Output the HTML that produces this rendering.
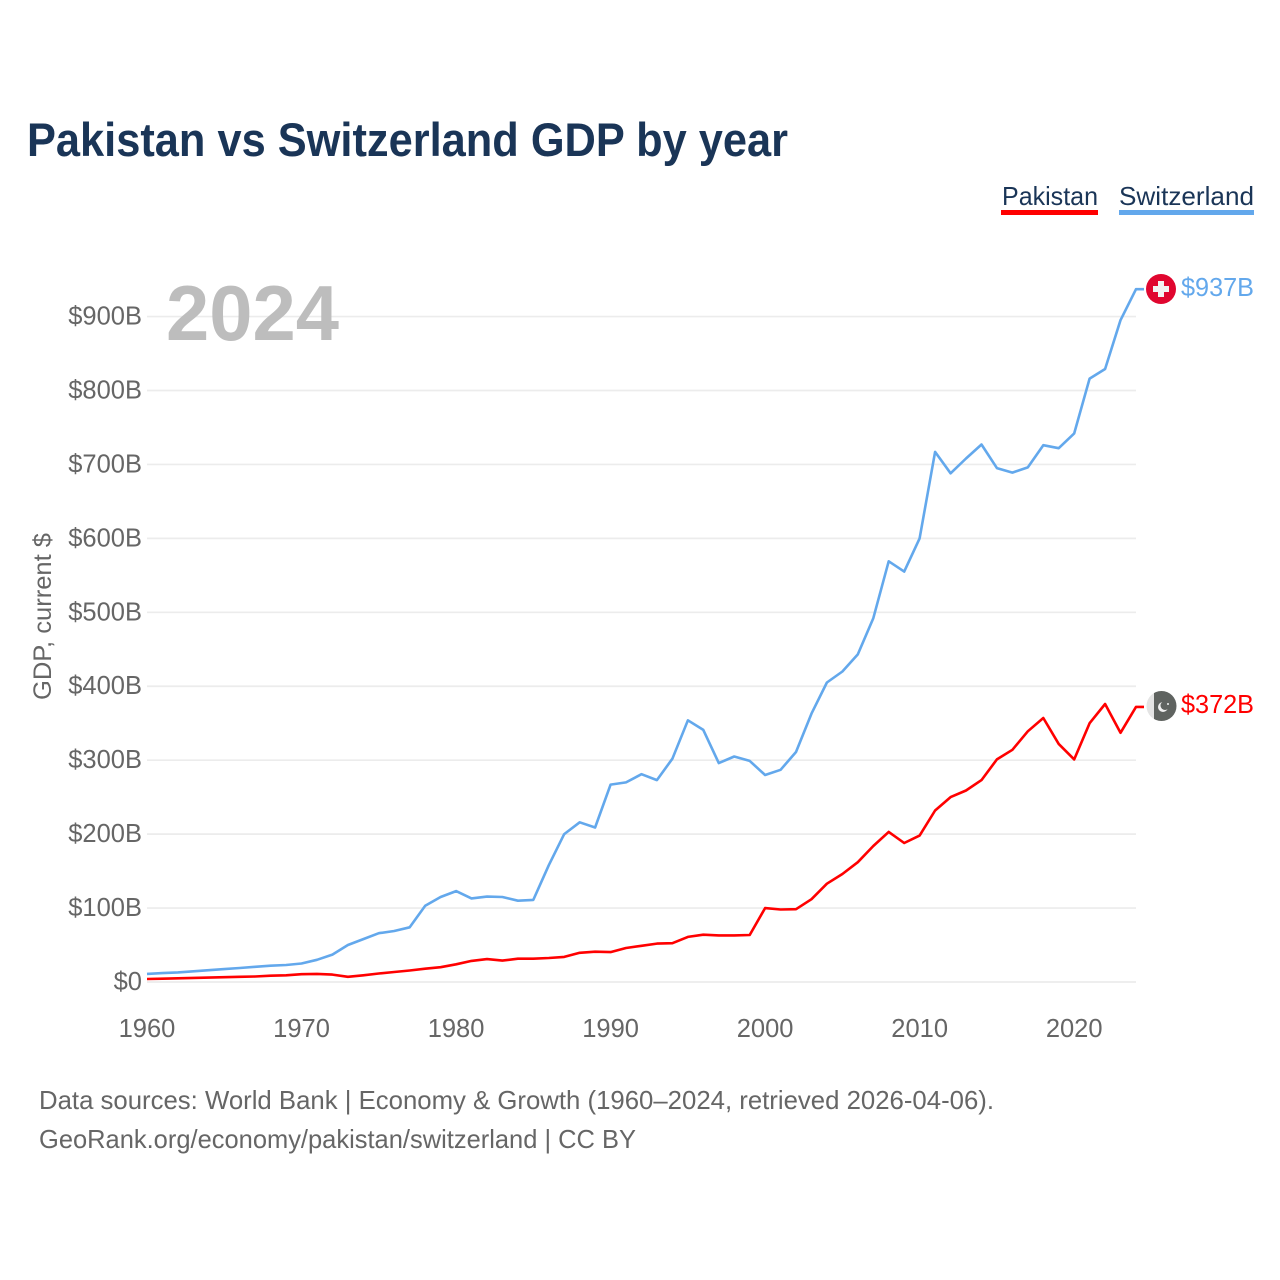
<!DOCTYPE html>
<html lang="en">
<head>
<meta charset="utf-8">
<title>Pakistan vs Switzerland GDP by year</title>
<style>
html,body{margin:0;padding:0;background:#fff;width:1280px;height:1280px;overflow:hidden}
svg{display:block}
text{font-family:"Liberation Sans",sans-serif}
</style>
</head>
<body>
<svg id="chart" width="1280" height="1280" viewBox="0 0 1280 1280" xmlns="http://www.w3.org/2000/svg">
  <text x="27" y="156" font-size="47" font-weight="700" fill="#1a3557" textLength="761" lengthAdjust="spacingAndGlyphs">Pakistan vs Switzerland GDP by year</text>

  <g>
    <text x="1002" y="205" font-size="26" fill="#1a3557" textLength="96" lengthAdjust="spacingAndGlyphs">Pakistan</text>
    <rect x="1001" y="210" width="97" height="5" fill="#ff0000"/>
    <text x="1119" y="205" font-size="26" fill="#1a3557" textLength="135" lengthAdjust="spacingAndGlyphs">Switzerland</text>
    <rect x="1119" y="210" width="135" height="5" fill="#63a8ec"/>
  </g>

  <g id="grid"></g>
  <g id="yticks"></g>
  <g id="xticks"></g>

  <text transform="translate(51,700) rotate(-90)" font-size="25" fill="#666" textLength="167" lengthAdjust="spacingAndGlyphs">GDP, current $</text>
  <text x="166" y="340" font-size="78" font-weight="700" fill="#bdbdbd" textLength="173" lengthAdjust="spacingAndGlyphs">2024</text>

  <g id="series"></g>

  <g id="flag-switzerland">
    <circle cx="1161" cy="289" r="15" fill="#e0062f"/>
    <rect x="1153" y="286" width="16" height="6" fill="#f2f2f2"/>
    <rect x="1158" y="281" width="6" height="16" fill="#f2f2f2"/>
  </g>
  <g id="flag-pakistan">
    <clipPath id="flag-clip"><circle cx="1161.5" cy="706" r="15"/></clipPath>
    <g clip-path="url(#flag-clip)">
      <rect x="1146" y="690" width="8" height="32" fill="#e4e4e4"/>
      <rect x="1154" y="690" width="24" height="32" fill="#5f6360"/>
      <circle cx="1163" cy="707" r="5" fill="#f0f0f0"/>
      <circle cx="1165" cy="705.500" r="4.500" fill="#5f6360"/>
      <circle cx="1168" cy="704" r="1" fill="#f0f0f0"/>
    </g>
  </g>

  <text x="1181" y="296" font-size="25.500" fill="#63a8ec" textLength="73" lengthAdjust="spacingAndGlyphs">$937B</text>
  <text x="1181" y="713" font-size="25.500" fill="#ff0000" textLength="73" lengthAdjust="spacingAndGlyphs">$372B</text>

  <text x="39" y="1109" font-size="26" fill="#666" textLength="955" lengthAdjust="spacingAndGlyphs">Data sources: World Bank | Economy &amp; Growth (1960–2024, retrieved 2026-04-06).</text>
  <text x="39" y="1148" font-size="26" fill="#666" textLength="597" lengthAdjust="spacingAndGlyphs">GeoRank.org/economy/pakistan/switzerland | CC BY</text>
</svg>
<script>
var startYear = 1960;
var yTickValues = [0, 100, 200, 300, 400, 500, 600, 700, 800, 900];
var yTickLabels = ["$0", "$100B", "$200B", "$300B", "$400B", "$500B", "$600B", "$700B", "$800B", "$900B"];
var xTickValues = [1960, 1970, 1980, 1990, 2000, 2010, 2020];
var xTickLabels = ["1960", "1970", "1980", "1990", "2000", "2010", "2020"];
var switzerland = [11, 12, 13, 14.5, 16, 17.5, 19, 20.5, 22, 23, 25, 30, 37, 50, 58, 66, 69, 74, 103, 115, 123, 113, 115.5, 115, 110, 111, 158, 200, 216, 209, 267, 270, 281, 273, 302, 354, 341, 296, 305, 299, 280, 287, 311, 363, 405, 420, 443, 492, 569, 555, 600, 717, 688, 708, 727, 695, 689, 696, 726, 722, 742, 816, 829, 895, 937];
var pakistan = [4, 4.5, 5, 5.5, 6, 6.5, 7, 7.5, 8.5, 9, 10.5, 11, 10, 7, 9, 11.5, 13.5, 15.5, 18, 20, 24, 28.5, 31, 29, 31.5, 31.5, 32.5, 34, 39.5, 41, 40.5, 46, 49, 52, 52.5, 61, 64, 63, 63, 63.5, 100, 98, 98.5, 112, 133, 146, 162, 184, 203, 188, 198, 232, 250, 259, 273, 301, 314, 339, 357, 322, 301, 350, 376, 337, 372];

var NS = "http://www.w3.org/2000/svg";
function xScale(year) { return 147 + (year - 1960) * 15.453; }
function yScale(value) { return 982 - value * 0.7394; }

var gridGroup = document.getElementById("grid");
var yGroup = document.getElementById("yticks");
var xGroup = document.getElementById("xticks");
var seriesGroup = document.getElementById("series");

yTickValues.forEach(function (v, i) {
  var line = document.createElementNS(NS, "line");
  
  
  line.setAttribute("x1", 147);
  line.setAttribute("x2", 1136);
  line.setAttribute("y1", yScale(v));
  line.setAttribute("y2", yScale(v));
  line.setAttribute("stroke", "#ececec");
  line.setAttribute("stroke-width", "1.7");
  gridGroup.appendChild(line);

  var label = document.createElementNS(NS, "text");
  
  
  label.setAttribute("x", 142);
  label.setAttribute("y", yScale(v) + 8);
  label.setAttribute("text-anchor", "end");
  label.setAttribute("font-size", "25.5");
  label.setAttribute("fill", "#666");
  label.textContent = yTickLabels[i];
  yGroup.appendChild(label);
});

xTickValues.forEach(function (v, i) {
  var label = document.createElementNS(NS, "text");
  
  
  label.setAttribute("x", xScale(v));
  label.setAttribute("y", 1037);
  label.setAttribute("text-anchor", "middle");
  label.setAttribute("font-size", "25.5");
  label.setAttribute("fill", "#666");
  label.textContent = xTickLabels[i];
  xGroup.appendChild(label);
});

function linePoints(values) {
  var pts = values.map(function (v, i) {
    return xScale(startYear + i).toFixed(1) + "," + yScale(v).toFixed(1);
  });
  var last = values[values.length - 1];
  pts.push("1144," + yScale(last).toFixed(1));
  return pts.join(" ");
}

var swissLine = document.createElementNS(NS, "polyline");


swissLine.setAttribute("points", linePoints(switzerland));
swissLine.setAttribute("fill", "none");
swissLine.setAttribute("stroke", "#63a8ec");
swissLine.setAttribute("stroke-width", "2.6");
swissLine.setAttribute("stroke-linejoin", "round");
seriesGroup.appendChild(swissLine);

var pakLine = document.createElementNS(NS, "polyline");


pakLine.setAttribute("points", linePoints(pakistan));
pakLine.setAttribute("fill", "none");
pakLine.setAttribute("stroke", "#ff0000");
pakLine.setAttribute("stroke-width", "2.6");
pakLine.setAttribute("stroke-linejoin", "round");
seriesGroup.appendChild(pakLine);
</script>
</body>
</html>
